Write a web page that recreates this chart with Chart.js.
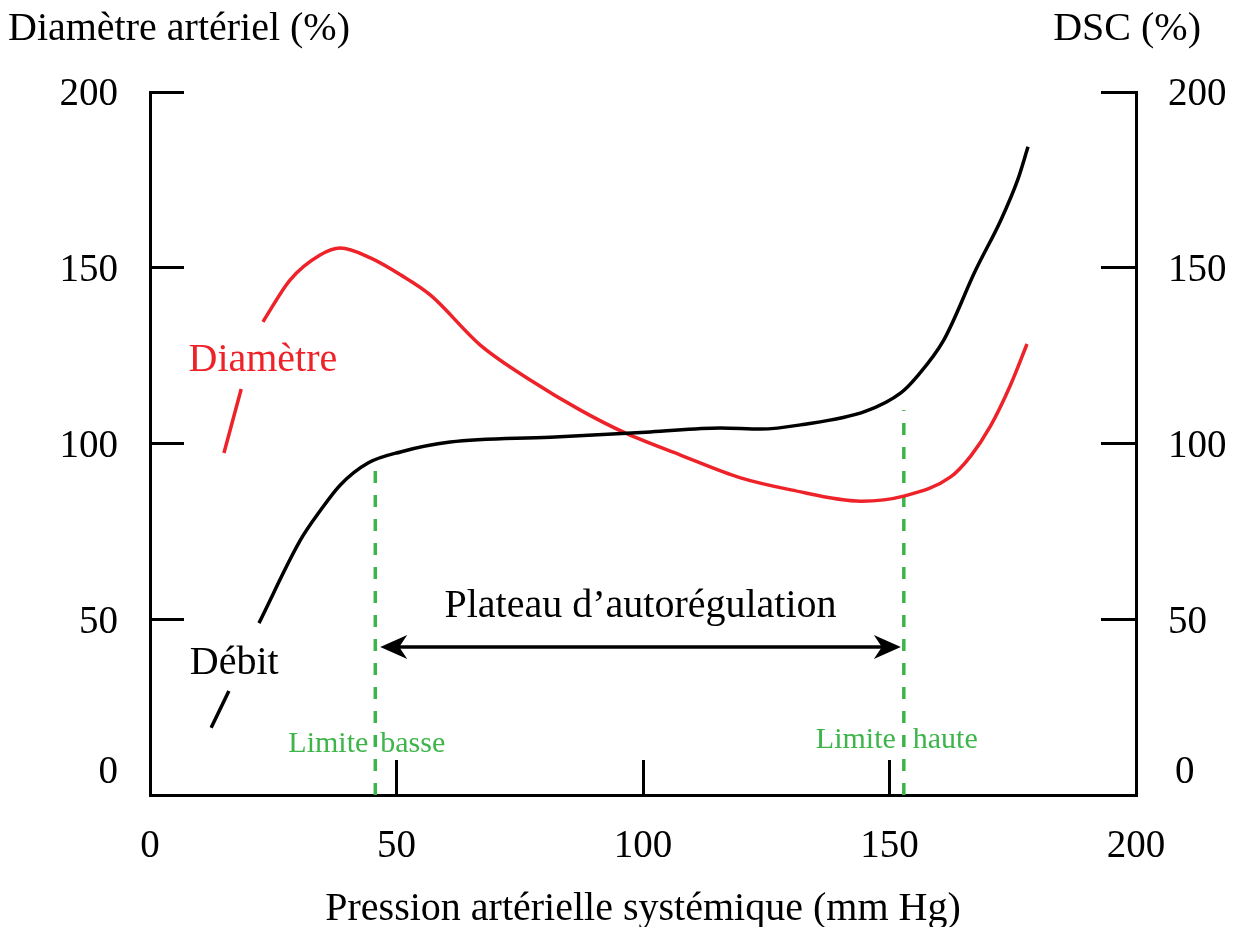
<!DOCTYPE html>
<html><head><meta charset="utf-8">
<script src="https://cdn.jsdelivr.net/npm/chart.js@4/dist/chart.umd.min.js"></script>
<style>html,body{margin:0;padding:0;background:#fff}#wrap{width:1239px;height:927px;position:relative}</style>
</head><body><div id="wrap"><canvas id="c"></canvas></div>
<script>
// ---- data ----
const xTickValues = [0, 50, 100, 150, 200];
const yTickValues = [0, 50, 100, 150, 200];
const debitX = [12.4, 16.0, 19.0, 22.1, 30.5, 34.6, 38.6, 44.3, 50.8, 60.9, 81.2, 101.5, 115.7, 123.9, 132.0, 145.2, 152.3, 155.3, 161.0, 167.5, 172.6, 176.0, 178.1];
const debitY = [19.1, 29.6, null, 48.9, 72.5, 81.0, 88.2, 94.5, 97.6, 100.4, 101.8, 103.3, 104.4, 104.1, 105.3, 109.2, 114.4, 118.6, 129.4, 149.4, 163.6, 175.0, 184.4];
const diamX = [15.0, 18.5, 20.5, 22.9, 28.4, 34.5, 38.6, 44.7, 50.8, 56.9, 67.0, 77.2, 87.3, 96.4, 107.6, 119.8, 130.0, 144.2, 153.1, 162.4, 166.5, 170.5, 174.5, 177.9];
const diamY = [97.3, 115.5, null, 134.6, 146.5, 153.6, 155.6, 152.8, 148.0, 142.2, 128.0, 118.0, 109.5, 103.0, 96.7, 90.2, 86.8, 83.6, 85.1, 90.5, 96.5, 105.0, 116.5, 128.3];
const limitX = [45.7, 152.9];       // limite basse, limite haute
const limitTopY = [93.9, 109.5];
const plateauY = 42.1;
const plateauFrom = 46.7, plateauTo = 152.3;

const FONT = "'Liberation Serif','Times New Roman',serif";
const RED = '#ee2229', GREEN = '#3db54a';
const TEXT_DY = 3;

const pts = (xs, ys) => xs.map((x, i) => ({x, y: ys[i]}));

const annot = {
  id: 'annot',
  afterDatasetsDraw(chart) {
    const {ctx} = chart;
    const xs = chart.scales.x, ys = chart.scales.y;
    const X = v => xs.getPixelForValue(v), Y = v => ys.getPixelForValue(v) + TEXT_DY;
    ctx.save();
    // double arrow
    const ay = ys.getPixelForValue(plateauY), ax1 = X(plateauFrom), ax2 = X(plateauTo);
    ctx.strokeStyle = '#000'; ctx.fillStyle = '#000'; ctx.lineWidth = 3.5;
    ctx.beginPath(); ctx.moveTo(ax1 + 10, ay); ctx.lineTo(ax2 - 10, ay); ctx.stroke();
    const head = (tx, dir) => {
      ctx.beginPath();
      ctx.moveTo(tx, ay);
      ctx.lineTo(tx + dir * 27, ay - 12);
      ctx.lineTo(tx + dir * 19, ay);
      ctx.lineTo(tx + dir * 27, ay + 12);
      ctx.closePath(); ctx.fill();
    };
    head(ax1, 1); head(ax2, -1);
    // texts
    ctx.textBaseline = 'middle';
    ctx.font = '40px ' + FONT;
    ctx.fillStyle = '#000'; ctx.textAlign = 'center';
    ctx.fillText('Plateau d\u2019autorégulation', X(99.5), Y(54.6));
    ctx.fillText('Débit', X(17.1), Y(38.4));
    ctx.fillStyle = RED;
    ctx.fillText('Diamètre', X(22.9), Y(124.6));
    ctx.font = '30px ' + FONT; ctx.fillStyle = GREEN;
    ctx.textAlign = 'right';
    ctx.fillText('Limite', X(limitX[0]) - 7, Y(15.4));
    ctx.fillText('Limite', X(limitX[1]) - 8, Y(16.5));
    ctx.textAlign = 'left';
    ctx.fillText('basse', X(limitX[0]) + 5, Y(15.4));
    ctx.fillText('haute', X(limitX[1]) + 9, Y(16.5));
    ctx.restore();
  },
  afterDraw(chart) {
    const {ctx} = chart;
    const ys = chart.scales.y, ca = chart.chartArea;
    ctx.save();
    ctx.fillStyle = '#000'; ctx.textBaseline = 'middle';
    ctx.font = '40px ' + FONT;
    ctx.textAlign = 'left';
    ctx.fillText('Diamètre artériel (%)', 8, 29);
    ctx.textAlign = 'right';
    ctx.fillText('DSC (%)', 1201, 29);
    ctx.textAlign = 'center';
    ctx.fillText('Pression artérielle systémique (mm Hg)', (ca.left + ca.right) / 2, 909);
    // zero labels of the vertical axes, drawn slightly above the corner
    ctx.font = '39px ' + FONT;
    const y0 = ys.getPixelForValue(0) - 22;
    ctx.textAlign = 'right'; ctx.fillText('0', ca.left - 32, y0);
    ctx.textAlign = 'left'; ctx.fillText('0', ca.right + 39, y0);
    ctx.restore();
  }
};

const tickFont = {family: FONT, size: 39};
new Chart(document.getElementById('c'), {
  type: 'line',
  data: {
    datasets: [
      {data: pts(debitX, debitY), borderColor: '#000', borderWidth: 3.5, cubicInterpolationMode: 'monotone', yAxisID: 'y2', spanGaps: false},
      {data: pts(diamX, diamY), borderColor: RED, borderWidth: 3.5, cubicInterpolationMode: 'monotone', yAxisID: 'y', spanGaps: false},
      {data: [{x: limitX[0], y: 0}, {x: limitX[0], y: limitTopY[0]}], borderColor: GREEN, borderWidth: 3.5, borderDash: [12, 12], yAxisID: 'y'},
      {data: [{x: limitX[1], y: 0}, {x: limitX[1], y: limitTopY[1]}], borderColor: GREEN, borderWidth: 3.5, borderDash: [12, 12], yAxisID: 'y'}
    ]
  },
  options: {
    responsive: true, maintainAspectRatio: false, animation: false,
    devicePixelRatio: 1,
    layout: {padding: {top: 92, left: 0, right: 0, bottom: 0}},
    elements: {point: {radius: 0}},
    plugins: {legend: {display: false}, tooltip: {enabled: false}},
    scales: {
      x: {
        type: 'linear', min: 0, max: 200,
        afterBuildTicks: s => { s.ticks = xTickValues.map(v => ({value: v})); },
        afterFit: s => { s.height = 132; },
        border: {display: true, color: '#000', width: 3},
        grid: {display: true, drawOnChartArea: false, drawTicks: true, tickLength: -35, tickWidth: 3, tickColor: '#000', color: '#000'},
        ticks: {font: tickFont, color: '#000', padding: 63, maxRotation: 0}
      },
      y: {
        position: 'left', min: 0, max: 200,
        afterBuildTicks: s => { s.ticks = yTickValues.map(v => ({value: v})); },
        afterFit: s => { s.width = 150; },
        border: {display: true, color: '#000', width: 3},
        grid: {display: true, drawOnChartArea: false, drawTicks: true, tickLength: -34, tickWidth: 3, tickColor: '#000', color: '#000'},
        ticks: {font: tickFont, color: '#000', padding: 66, labelOffset: 3, callback: v => v === 0 ? '' : String(v)}
      },
      y2: {
        position: 'right', min: 0, max: 200,
        afterBuildTicks: s => { s.ticks = yTickValues.map(v => ({value: v})); },
        afterFit: s => { s.width = 103; },
        border: {display: true, color: '#000', width: 3},
        grid: {display: true, drawOnChartArea: false, drawTicks: true, tickLength: -35, tickWidth: 3, tickColor: '#000', color: '#000'},
        ticks: {font: tickFont, color: '#000', padding: 67, labelOffset: 3, callback: v => v === 0 ? '' : String(v)}
      }
    }
  },
  plugins: [annot]
});
</script>
</body></html>
